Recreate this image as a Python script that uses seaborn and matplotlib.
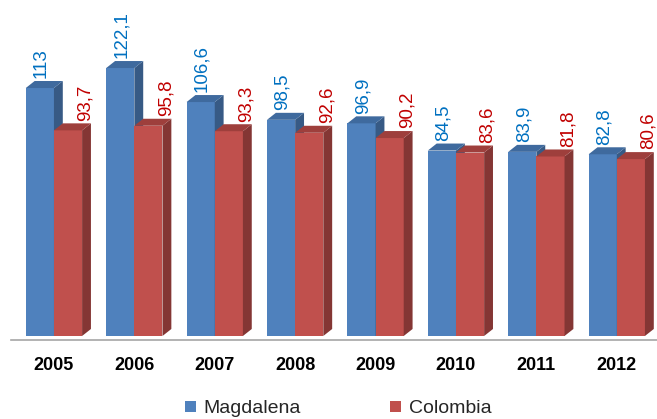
import matplotlib
matplotlib.use("Agg")
import matplotlib.pyplot as plt
from matplotlib.patches import Polygon, Patch
import seaborn as sns
import pandas as pd

years = ["2005", "2006", "2007", "2008", "2009", "2010", "2011", "2012"]
magdalena = [113, 122.1, 106.6, 98.5, 96.9, 84.5, 83.9, 82.8]
colombia = [93.7, 95.8, 93.3, 92.6, 90.2, 83.6, 81.8, 80.6]
series = ["Magdalena", "Colombia"]

front = {"Magdalena": "#4F81BD", "Colombia": "#C0504D"}
side = {"Magdalena": "#375A85", "Colombia": "#843634"}
top = {"Magdalena": "#3F6A9E", "Colombia": "#9E3F3C"}
label_col = {"Magdalena": "#0070C0", "Colombia": "#C00000"}

df = pd.DataFrame({
    "year": years * 2,
    "value": magdalena + colombia,
    "serie": ["Magdalena"] * len(years) + ["Colombia"] * len(years),
})

sns.set_theme(style="white")
plt.rcParams["font.family"] = ["Liberation Sans", "DejaVu Sans"]

W, H = 657, 419
fig = plt.figure(figsize=(W / 100, H / 100), dpi=100)
ax = fig.add_axes([11 / W, (H - 339.5) / H, (W - 11) / W, 339.5 / H])

sns.barplot(data=df, x="year", y="value", hue="serie", order=years,
            hue_order=series, palette=front, width=0.7, saturation=1,
            linewidth=0, ax=ax, legend=False)

xl, xr = -0.534, 7.374
yb, yt = -1.6, 153.1
ax.set_xlim(xl, xr)
ax.set_ylim(yb, yt)

dx = 9 / (ax.bbox.width / (xr - xl))
dy = 7 / (ax.bbox.height / (yt - yb))

for k, (cont, name) in enumerate(zip(ax.containers, series)):
    for rect in cont:
        x0, w, h = rect.get_x(), rect.get_width(), rect.get_height()
        rect.set_zorder(2 + 3 * k)
        sp = Polygon([(x0 + w, 0), (x0 + w + dx, dy), (x0 + w + dx, h + dy), (x0 + w, h)],
                     closed=True, facecolor=side[name], edgecolor="none", zorder=3 + 3 * k)
        tp = Polygon([(x0, h), (x0 + dx, h + dy), (x0 + w + dx, h + dy), (x0 + w, h)],
                     closed=True, facecolor=top[name], edgecolor="none", zorder=4 + 3 * k)
        ax.add_patch(sp)
        ax.add_patch(tp)
        txt = f"{h:g}".replace(".", ",")
        if name == "Magdalena":
            xa, off = x0 + w / 2, 1.0
        else:
            xa, off = x0 + w, 2.5
        ax.annotate(txt, (xa, h), xytext=(off, 7), textcoords="offset points",
                    rotation=90, ha="center", va="bottom", fontsize=13.5,
                    color=label_col[name], annotation_clip=False, zorder=20)

for s in ["left", "right", "top"]:
    ax.spines[s].set_visible(False)
ax.spines["bottom"].set_color("#A6A6A6")
ax.spines["bottom"].set_linewidth(1.2)
ax.set_yticks([])
ax.set_xlabel("")
ax.set_ylabel("")
ax.set_xticks(range(len(years)))
ax.set_xticklabels(years, fontsize=13, fontweight="bold", color="black")
ax.set_xticks([i - 0.5 for i in range(len(years) + 1)], minor=True)
ax.tick_params(axis="x", which="major", length=0, pad=12.5)
ax.tick_params(axis="x", which="minor", length=6, width=1.2, color="#A6A6A6", direction="out")

handles = [Patch(facecolor=front[s], edgecolor="none") for s in series]
fig.legend(handles, series, loc="center", bbox_to_anchor=(0.515, 0.024), ncol=2,
           frameon=False, fontsize=14, handlelength=0.55, handleheight=0.55,
           handletextpad=0.4, columnspacing=4.6)

fig.savefig("out.png", dpi=100)
